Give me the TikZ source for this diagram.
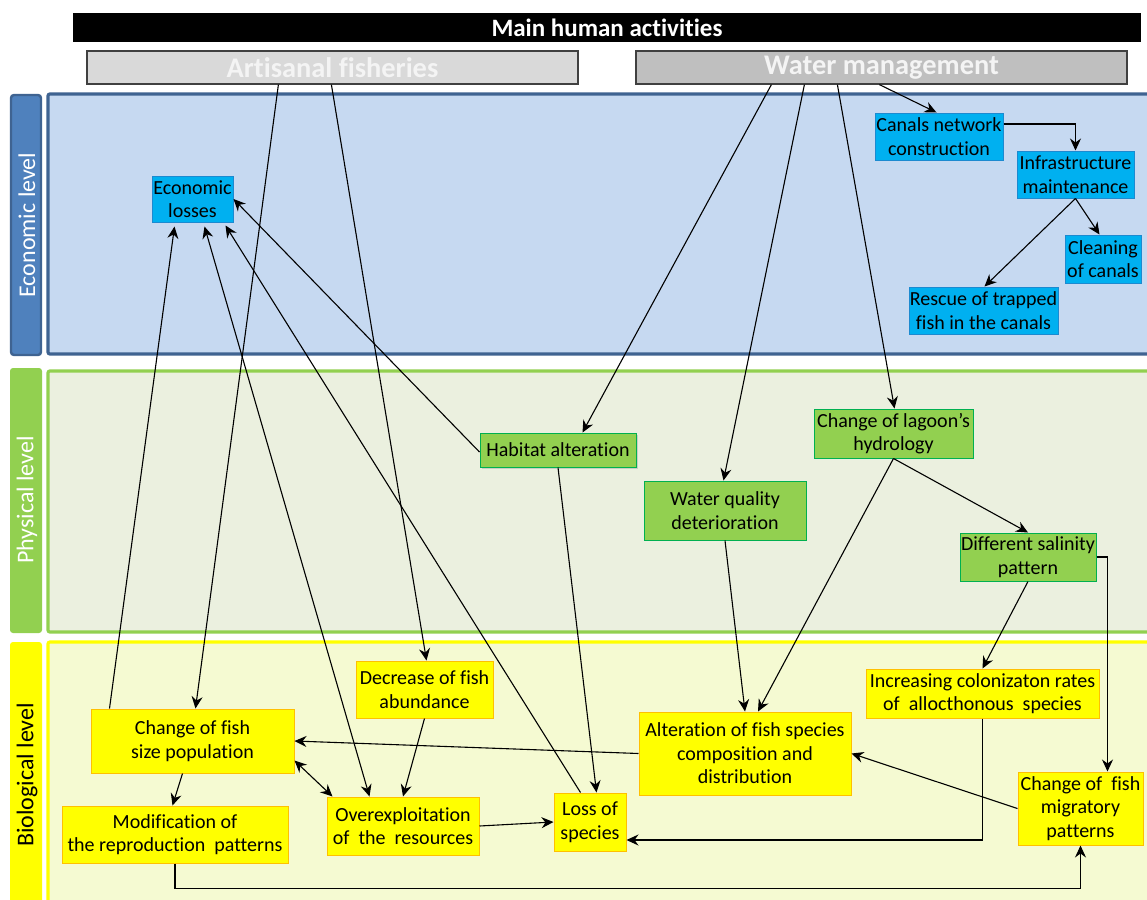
\documentclass[tikz,border=0pt]{standalone}
\usepackage{fontspec}
\setmainfont[Ligatures={NoCommon}]{Carlito}
\usetikzlibrary{arrows.meta,shadows}
\definecolor{ecofill}{HTML}{00B0F0}
\definecolor{ecodraw}{HTML}{1C8AD0}
\definecolor{phyfill}{HTML}{92D050}
\definecolor{phydraw}{HTML}{00B050}
\definecolor{biofill}{HTML}{FFFF00}
\definecolor{biodraw}{HTML}{FFC000}
\definecolor{ecoband}{HTML}{C6D9F1}
\definecolor{ecoborder}{HTML}{3F6391}
\definecolor{ecolabel}{HTML}{4F81BD}
\definecolor{phyband}{HTML}{EBF0DF}
\definecolor{bioband}{HTML}{F5FAD2}
\definecolor{artfill}{HTML}{D9D9D9}
\definecolor{watfill}{HTML}{BFBFBF}
\definecolor{topdraw}{HTML}{404040}
\definecolor{toptext}{HTML}{F4F4F4}
\newcommand\mybox[7]{\node[#1, minimum width={(#5-#3)*0.5pt}, minimum height={(#6-#4)*0.5pt}] (#2) at ({(#3+#5)/2},{(#4+#6)/2}) {#7};}
\begin{document}
\begin{tikzpicture}[x=0.5pt,y=-0.5pt,
  box/.style={draw, line width=0.5pt, inner sep=0pt, align=center, font=\fontsize{10}{11.75}\selectfont, text=black},
  eco/.style={box, fill=ecofill, draw=ecodraw},
  phy/.style={box, fill=phyfill, draw=phydraw},
  bio/.style={box, fill=biofill, draw=biodraw},
  topbox/.style={draw=topdraw, line width=0.6pt, inner sep=0pt, text=toptext, font=\fontsize{14.2}{16}\selectfont\bfseries},
  band/.style={line width=1.6pt, rounded corners=1pt},
  lvl/.style={rounded corners=1.5pt},
  lvltext/.style={rotate=90, font=\fontsize{12}{14}\selectfont},
  conn/.style={line width=0.55pt, -{Stealth[length=6pt,width=5.5pt,inset=2pt]}},
  bconn/.style={line width=0.55pt, {Stealth[length=6pt,width=5.5pt,inset=2pt]}-{Stealth[length=6pt,width=5.5pt,inset=2pt]}}]
\useasboundingbox (0,0) rectangle (1147,900);
\clip (0,0) rectangle (1147,900);
\fill[white] (0,0) rectangle (1147,900);
% bands
\draw[band, draw=ecoborder, fill=ecoband] (48,94) rectangle (1165,354);
\draw[band, draw=phyfill, fill=phyband] (48,371) rectangle (1165,632);
\draw[band, draw=biofill, fill=bioband] (48,642) rectangle (1165,920);
% level labels
\draw[lvl, draw=ecoborder, line width=1.2pt, fill=ecolabel] (11,95) rectangle (41,355);
\fill[lvl, phyfill] (10,368) rectangle (42,633);
\fill[lvl, biofill] (10,642) rectangle (42,920);
\node[lvltext, text=white] (lecon) at (27,225) {Economic level};
\node[lvltext, text=white] (lphys) at (27,500) {Physical level};
\node[lvltext, text=black] (lbio) at (27,775) {Biological level};
% top
\mybox{fill=black, inner sep=0pt, text=white, font=\fontsize{12.5}{14}\selectfont\bfseries}{title}{73}{13}{1141}{42}{Main human activities}
\mybox{topbox, fill=artfill}{art}{87}{51}{578}{84}{Artisanal fisheries}
\mybox{topbox, fill=watfill}{wat}{636}{51}{1127}{84}{Water management}
% economic
\mybox{eco}{econ}{152}{176}{233}{222}{Economic\\losses}
\mybox{eco}{canals}{875}{113}{1003}{160}{Canals network\\construction}
\mybox{eco}{infra}{1017}{151}{1134}{198}{Infrastructure\\maintenance}
\mybox{eco}{clean}{1065}{235}{1141}{283}{Cleaning\\of canals}
\mybox{eco}{rescue}{909}{287}{1058}{334}{Rescue of trapped\\fish in the canals}
% physical
\mybox{phy, drop shadow={opacity=0.3, shadow xshift=1.2pt, shadow yshift=-1.2pt}}{habitat}{480}{433}{636}{467}{Habitat alteration}
\mybox{phy}{waterq}{644}{481}{806}{540}{Water quality\\deterioration}
\mybox{phy}{hydro}{814}{409}{973}{458}{Change of lagoon’s\\hydrology}
\mybox{phy}{salin}{960}{533}{1096}{581}{Different salinity\\pattern}
% biological
\mybox{bio}{decr}{356}{661}{493}{718}{Decrease of fish\\abundance}
\mybox{bio}{size}{91}{709}{294}{773}{Change of fish\\size population}
\mybox{bio}{modif}{62}{806}{288}{863}{Modification of\\the reproduction\ \ patterns}
\mybox{bio}{overex}{327}{797}{479}{855}{Overexploitation\\of\ \ the\ \ resources}
\mybox{bio}{loss}{554}{793}{626}{851}{Loss of\\species}
\mybox{bio}{alter}{639}{712}{851}{795}{Alteration of fish species\\composition and\\distribution}
\mybox{bio}{colon}{866}{669}{1099}{718}{Increasing colonizaton rates\\of\ \ allocthonous\ \ species}
\mybox{bio}{migr}{1018}{772}{1143}{845}{Change of\ \ fish\\migratory\\patterns}
% connectors from top boxes
\draw[conn] ([xshift=96pt]art.south west) -- ([xshift=52.5pt]size.north west);
\draw[conn] ([xshift=122.5pt]art.south west) -- ([xshift=35.5pt]decr.north west);
\draw[conn] ([xshift=68pt]wat.south west) -- ([xshift=51.5pt]habitat.north west);
\draw[conn] ([xshift=84.5pt]wat.south west) -- ([xshift=40pt]waterq.north west);
\draw[conn] ([xshift=101pt]wat.south west) -- ([xshift=40.5pt]hydro.north west);
\draw[conn] ([xshift=122pt]wat.south west) -- ([xshift=31pt]canals.north west);
% economic
\draw[conn] ([yshift=6.25pt]canals.east) -| (infra.north);
\draw[conn] (infra.south) -- ([xshift=17.5pt]clean.north west);
\draw[conn] (infra.south) -- ([xshift=38pt]rescue.north west);
% to economic losses
\draw[conn] ([xshift=9.5pt]size.north west) -- ([xshift=11.5pt,yshift=-2pt]econ.south west);
\draw[bconn] ([xshift=26.5pt,yshift=-2pt]econ.south west) -- ([xshift=21.5pt]overex.north west);
\draw[conn] ([xshift=13.5pt]loss.north west) -- ([xshift=-4pt,yshift=-1.5pt]econ.south east);
\draw[conn] ([yshift=-1pt]habitat.west) -- (econ.east);
% physical
\draw[conn] (habitat.south) -- ([xshift=21.5pt]loss.north west);
\draw[conn] (waterq.south) -- (alter.north);
\draw[conn] (hydro.south) -- ([xshift=6.5pt]alter.north);
\draw[conn] (hydro.south) -- (salin.north);
\draw[conn] (salin.south) -- (colon.north);
\draw[conn] (salin.east) -| ([xshift=45pt]migr.north west);
% biological
\draw[conn] (colon.south) |- ([yshift=-9pt]loss.east);
\draw[conn] (migr.west) -- (alter.east);
\draw[conn] (alter.west) -- (size.east);
\draw[bconn] ([yshift=6.5pt]size.south east) -- ([xshift=3pt]overex.north west);
\draw[conn] ([xshift=46pt]size.south west) -- ([xshift=55.5pt]modif.north west);
\draw[conn] (decr.south) -- (overex.north);
\draw[conn] (overex.east) -- (loss.west);
\draw[conn] (modif.south) -- ++(0,25) -| (migr.south);
\end{tikzpicture}
\end{document}
